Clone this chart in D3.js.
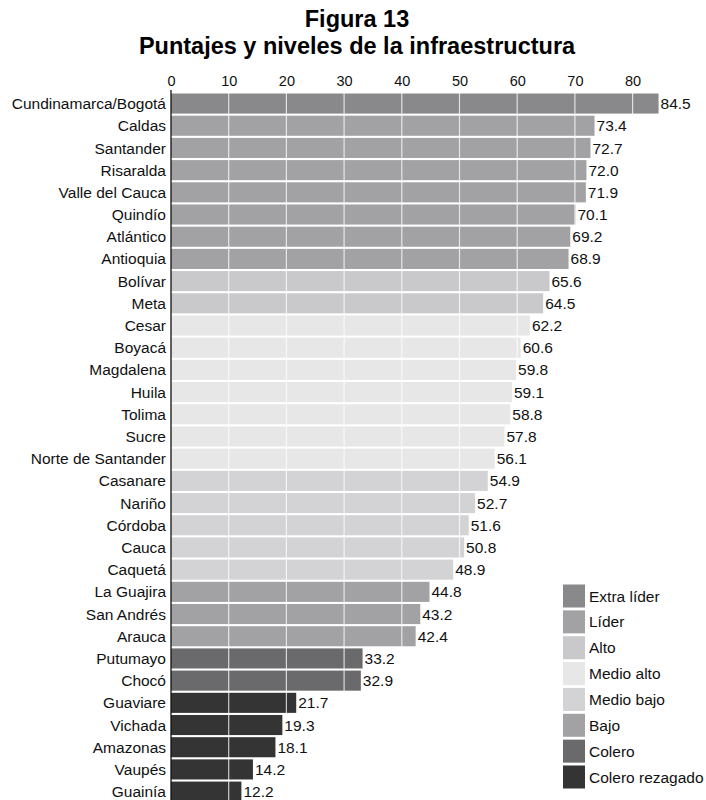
<!DOCTYPE html>
<html><head><meta charset="utf-8">
<script src="https://cdn.jsdelivr.net/npm/d3@7"></script>
<style>body{margin:0;background:#fff}svg{display:block}</style>
</head><body>
<svg id="chart" width="706" height="800"></svg>
<script>
const categories = ["Cundinamarca/Bogotá","Caldas","Santander","Risaralda","Valle del Cauca","Quindío","Atlántico","Antioquia","Bolívar","Meta","Cesar","Boyacá","Magdalena","Huila","Tolima","Sucre","Norte de Santander","Casanare","Nariño","Córdoba","Cauca","Caquetá","La Guajira","San Andrés","Arauca","Putumayo","Chocó","Guaviare","Vichada","Amazonas","Vaupés","Guainía"];
const values = [84.5,73.4,72.7,72.0,71.9,70.1,69.2,68.9,65.6,64.5,62.2,60.6,59.8,59.1,58.8,57.8,56.1,54.9,52.7,51.6,50.8,48.9,44.8,43.2,42.4,33.2,32.9,21.7,19.3,18.1,14.2,12.2];
const levelOf = ["Extra líder","Líder","Líder","Líder","Líder","Líder","Líder","Líder","Alto","Alto","Medio alto","Medio alto","Medio alto","Medio alto","Medio alto","Medio alto","Medio alto","Medio bajo","Medio bajo","Medio bajo","Medio bajo","Medio bajo","Bajo","Bajo","Bajo","Colero","Colero","Colero rezagado","Colero rezagado","Colero rezagado","Colero rezagado","Colero rezagado"];
const levels = ["Extra líder","Líder","Alto","Medio alto","Medio bajo","Bajo","Colero","Colero rezagado"];
const levelColors = ["#89898c","#a2a2a4","#c9c9cb","#e7e7e8","#d3d3d5","#a2a2a4","#6a6a6c","#343434"];
const tickValues = [0,10,20,30,40,50,60,70,80];
const titleLines = ["Figura 13","Puntajes y niveles de la infraestructura"];

const font = "'Liberation Sans', Arial, Helvetica, sans-serif";
const svg = d3.select("#chart");
const x = d3.scaleLinear().domain([0,80]).range([171,632.6]);
const y = d3.scaleBand().domain(categories).range([93.5, 93.5 + 22.13*32]).paddingInner(0.095).paddingOuter(0.0);
const color = d3.scaleOrdinal().domain(levels).range(levelColors);

// Title
svg.selectAll("text.title").data(titleLines).join("text")
  .attr("class","title").attr("x",357).attr("y",(d,i)=>27+i*27)
  .attr("text-anchor","middle").attr("font-family",font).attr("font-weight","bold")
  .attr("font-size",23.5).attr("fill","#000").text(d=>d);

// Bars
svg.append("g").selectAll("rect").data(categories).join("rect")
  .attr("x",x(0)).attr("y",d=>y(d)).attr("height",y.bandwidth())
  .attr("width",(d,i)=>x(values[i])-x(0))
  .attr("fill",(d,i)=>color(levelOf[i]));

// White grid lines over bars
svg.append("g").selectAll("line").data(tickValues.filter(t=>t>0)).join("line")
  .attr("x1",d=>x(d)).attr("x2",d=>x(d)).attr("y1",90).attr("y2",800)
  .attr("stroke","#fff").attr("stroke-width",1.2).attr("opacity",0.75);

// Top axis
const axis = d3.axisTop(x).tickValues(tickValues).tickSize(0).tickPadding(0);
const ag = svg.append("g").attr("transform","translate(0,86)").call(axis);
ag.select(".domain").remove();
ag.selectAll("text").attr("font-family",font).attr("font-size",14.5).attr("fill","#111");

// Vertical axis line
svg.append("line").attr("x1",x(0)).attr("x2",x(0)).attr("y1",90).attr("y2",800)
  .attr("stroke","#111").attr("stroke-width",1.3);

// Category labels
svg.append("g").selectAll("text").data(categories).join("text")
  .attr("x",x(0)-5).attr("y",d=>y(d)+y.bandwidth()/2).attr("dy","0.36em")
  .attr("text-anchor","end").attr("font-family",font).attr("font-size",15.5).attr("fill","#111")
  .text(d=>d);

// Value labels
svg.append("g").selectAll("text").data(categories).join("text")
  .attr("x",(d,i)=>x(values[i])+2).attr("y",d=>y(d)+y.bandwidth()/2).attr("dy","0.36em")
  .attr("font-family",font).attr("font-size",15.5).attr("fill","#111")
  .text((d,i)=>values[i].toFixed(1));

// Legend
const lg = svg.append("g");
const ly = d3.scalePoint().domain(levels).range([596,777]);
lg.selectAll("rect").data(levels).join("rect")
  .attr("x",563).attr("y",d=>ly(d)-11.5).attr("width",22).attr("height",23)
  .attr("fill",d=>color(d));
lg.selectAll("text").data(levels).join("text")
  .attr("x",589).attr("y",d=>ly(d)).attr("dy","0.36em")
  .attr("font-family",font).attr("font-size",15.5).attr("fill","#111").text(d=>d);
</script>
</body></html>
